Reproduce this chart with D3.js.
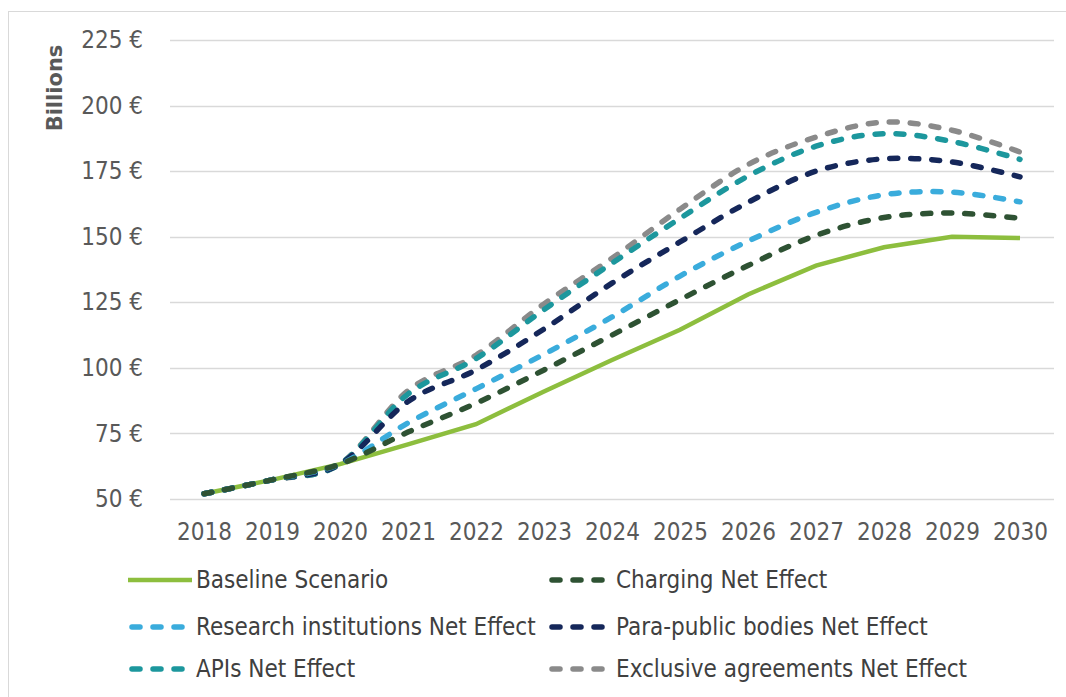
<!DOCTYPE html>
<html>
<head>
<meta charset="utf-8">
<script src="https://cdn.jsdelivr.net/npm/d3@7"></script>
<style>
	body { margin: 0; background: #fff; }
	svg { display: block; }
</style>
</head>
<body>
<svg id="chart" width="1066" height="697"></svg>
<script>
// data (billions of euros)
var years = ["2018", "2019", "2020", "2021", "2022", "2023", "2024", "2025", "2026", "2027", "2028", "2029", "2030"];
var baseline   = [52, 57.3, 63.3, 70.8, 78.5, 91, 103, 114.5, 128, 139, 146, 150, 149.5];
var charging   = [52, 57.3, 63.3, 75.5, 86.5, 99.2, 112.5, 126, 139, 150.5, 157.3, 159, 157];
var research   = [52, 57.3, 63.3, 79, 92, 105.2, 119.4, 135, 148.3, 159.3, 166, 167, 163.3];
var paraPublic = [52, 57.3, 63.3, 87.2, 99.2, 114.8, 132.3, 148, 163.1, 175, 179.7, 178.5, 172.8];
var apis       = [52, 57.3, 63.3, 90, 103.5, 122.2, 139.9, 157, 173.1, 184.5, 189.3, 186.3, 179.5];
var exclusive  = [52, 57.3, 63.3, 91.3, 104.8, 124.4, 141.8, 160.5, 177.5, 188, 193.7, 190.6, 182.3];
var yTicks = [50, 75, 100, 125, 150, 175, 200, 225];

var seriesNames = ["Baseline Scenario", "Charging Net Effect", "Research institutions Net Effect",
	"Para-public bodies Net Effect", "APIs Net Effect", "Exclusive agreements Net Effect"];
var seriesValues = [baseline, charging, research, paraPublic, apis, exclusive];
var seriesColors = ["#8DBE3E", "#2E5233", "#3AACDC", "#15275A", "#1C979D", "#8A8A8A"];

var svg = d3.select("#chart");
var font = "'DejaVu Sans Condensed', 'DejaVu Sans', sans-serif";
var dash = "8,13";

// outer frame
svg.append("rect").attr("x", 8.5).attr("y", 11.5).attr("width", 1070).attr("height", 700)
	.attr("fill", "none").attr("stroke", "#D9D9D9");

var x = d3.scalePoint().domain(years).range([204, 1020]);
var y = d3.scaleLinear().domain([50, 225]).range([499, 40]);

// gridlines
svg.append("g").selectAll("line").data(yTicks).enter().append("line")
	.attr("x1", 170).attr("x2", 1054)
	.attr("y1", function(d){ return Math.round(y(d)) + 0.5; })
	.attr("y2", function(d){ return Math.round(y(d)) + 0.5; })
	.attr("stroke", "#D9D9D9").attr("stroke-width", 1.3);

// y axis labels
var yAxis = svg.append("g").attr("transform", "translate(143,0)")
	.call(d3.axisLeft(y).tickValues(yTicks).tickSize(0).tickPadding(0)
		.tickFormat(function(d){ return d + " \u20AC"; }));
yAxis.select(".domain").remove();
yAxis.selectAll("text").attr("font-family", font).attr("font-size", 24).attr("fill", "#595959");

// x axis labels
var xAxis = svg.append("g").attr("transform", "translate(0,523)")
	.call(d3.axisBottom(x).tickSize(0).tickPadding(0));
xAxis.select(".domain").remove();
xAxis.selectAll("text").attr("font-family", font).attr("font-size", 24).attr("fill", "#595959");

svg.append("text")
	.attr("transform", "translate(62,88) rotate(-90)")
	.attr("text-anchor", "middle")
	.attr("font-family", "'DejaVu Sans', sans-serif").attr("font-size", 21).attr("font-weight", 600)
	.attr("fill", "#595959").text("Billions");

// lines
var lineSmooth = d3.line()
	.x(function(d, i){ return x(years[i]); })
	.y(function(d){ return y(d); })
	.curve(d3.curveCardinal.tension(0));
var lineStraight = d3.line()
	.x(function(d, i){ return x(years[i]); })
	.y(function(d){ return y(d); });

// baseline underneath, then dashed series from the last one to the first
svg.append("path").datum(baseline)
	.attr("d", lineStraight).attr("fill", "none")
	.attr("stroke", seriesColors[0]).attr("stroke-width", 4.5);

for (var s = seriesValues.length - 1; s >= 1; s--) {
	svg.append("path").datum(seriesValues[s])
		.attr("d", lineSmooth).attr("fill", "none")
		.attr("stroke", seriesColors[s]).attr("stroke-width", 5.5)
		.attr("stroke-dasharray", dash).attr("stroke-linecap", "round");
}

// legend
var legendPos = [[128, 580], [548, 580], [128, 627], [548, 627], [128, 669], [548, 669]];
var legend = svg.append("g").selectAll("g").data(seriesNames).enter().append("g")
	.attr("transform", function(d, i){ return "translate(" + legendPos[i][0] + "," + legendPos[i][1] + ")"; });
legend.append("line")
	.attr("x1", function(d, i){ return i == 0 ? 0 : 4; }).attr("x2", 64)
	.attr("y1", 0).attr("y2", 0)
	.attr("stroke", function(d, i){ return seriesColors[i]; })
	.attr("stroke-width", function(d, i){ return i == 0 ? 4.5 : 5.5; })
	.attr("stroke-linecap", function(d, i){ return i == 0 ? "butt" : "round"; })
	.attr("stroke-dasharray", function(d, i){ return i == 0 ? null : dash; });
legend.append("text")
	.attr("x", 68).attr("y", 0).attr("dy", "0.35em")
	.attr("font-family", font).attr("font-size", 24).attr("fill", "#404040")
	.text(function(d){ return d; });
</script>
</body>
</html>
